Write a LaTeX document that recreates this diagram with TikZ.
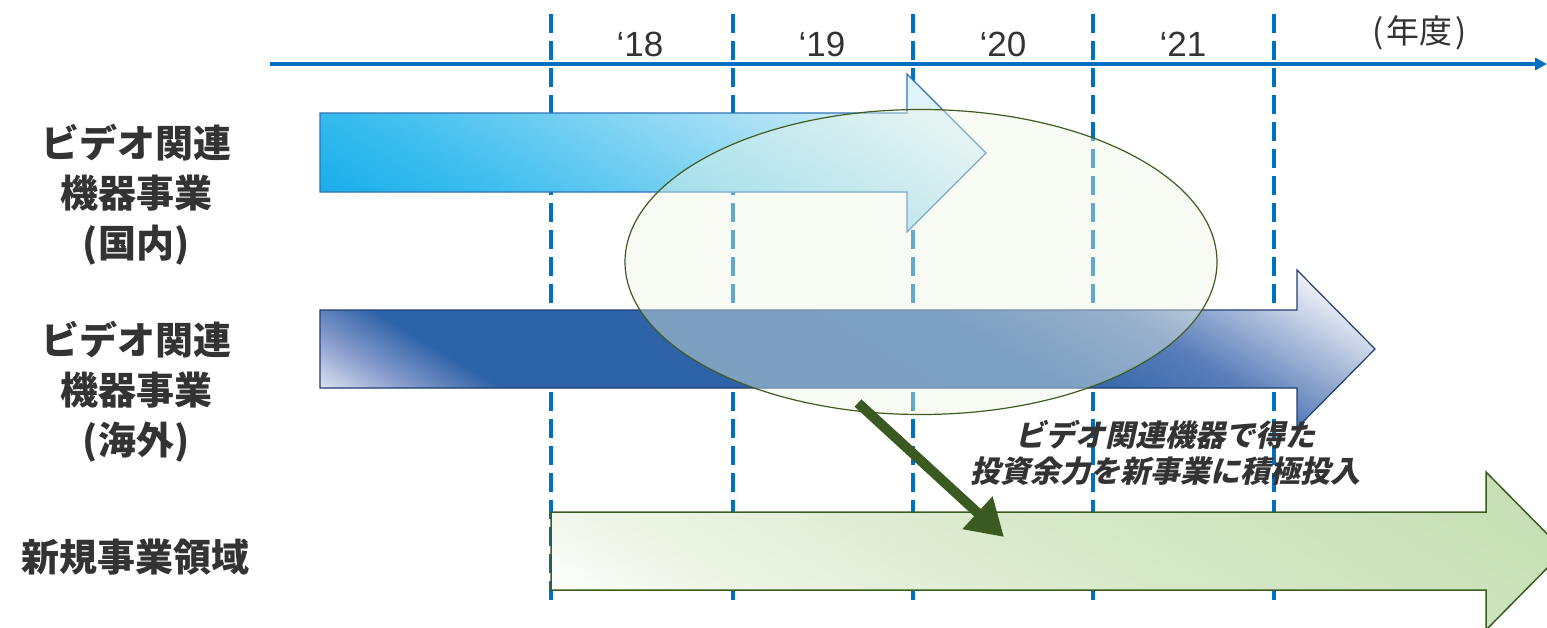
\documentclass[tikz,border=0pt]{standalone}
\usepackage{fontspec}
\setmainfont{Liberation Sans}
\newfontfamily\jp{Noto Sans CJK JP}
\newfontfamily\jpit{Noto Sans CJK JP}[FakeSlant=0.22,BoldFeatures={FakeSlant=0.22}]
\usetikzlibrary{arrows.meta,shapes.geometric}
\definecolor{axisblue}{HTML}{0070C0}
\definecolor{txt}{HTML}{333333}
\definecolor{cA}{HTML}{19AEEA}
\definecolor{cB}{HTML}{3ABDEE}
\definecolor{cC}{HTML}{A8E0F5}
\definecolor{cD}{HTML}{E2F4FB}
\definecolor{bA}{HTML}{DDE3EF}
\definecolor{bB}{HTML}{8B9ECE}
\definecolor{bC}{HTML}{2C62A8}
\definecolor{bD}{HTML}{2D64A9}
\definecolor{bE}{HTML}{5A7EBA}
\definecolor{bF}{HTML}{EDEFF5}
\definecolor{gA}{HTML}{EEF5E7}
\definecolor{gB}{HTML}{D6E8C8}
\definecolor{gC}{HTML}{C2DDAE}
\definecolor{arrowborder1}{HTML}{2E74B5}
\definecolor{arrowborder2}{HTML}{1F3F73}
\definecolor{greenborder}{HTML}{3A5C20}
\definecolor{darkgreen}{HTML}{3A5A22}
\definecolor{ellfill}{HTML}{EEF6E6}
\definecolor{ellline}{HTML}{3F5C22}
\newcommand\arrowOnePath{(320,113) -- (907,113) -- (907,74) -- (986,153) -- (907,232) -- (907,192) -- (320,192) -- cycle}
\newcommand\arrowTwoPath{(320,310) -- (1297,310) -- (1297,270) -- (1375,349) -- (1297,428) -- (1297,388) -- (320,388) -- cycle}
\newcommand\arrowThreePath{(551,512) -- (1486,512) -- (1486,472) -- (1564,551) -- (1486,630) -- (1486,590) -- (551,590) -- cycle}
% strips: #1 y top, #2 y bottom, #3 shift at top, #4 list of stops
\newcommand\stripfill[4]{%
  \foreach \sa/\sb/\ca/\cb in {#4}{%
    \pgfmathtruncatemacro\n{max(1,int((\sb-\sa)/5))}%
    \pgfmathsetmacro\stw{(\sb-\sa)/\n}%
    \foreach \i in {1,...,\n}{%
      \pgfmathsetmacro\sl{\sa+\stw*(\i-1)}%
      \pgfmathsetmacro\sr{\sa+\stw*\i+1.5}%
      \pgfmathsetmacro\p{100*(\i-0.5)/\n}%
      \fill[\cb!\p!\ca] (\sl-#3,#1) -- (\sr-#3,#1) -- (\sr+#3,#2) -- (\sl+#3,#2) -- cycle;
    }%
  }%
}
\tikzset{
  yearlbl/.style={font=\fontsize{35}{40}\selectfont, text=txt, inner sep=0pt},
  sidelbl/.style={font=\jp\bfseries\fontsize{38}{50}\selectfont, text=txt, align=center, inner sep=0pt},
  notelbl/.style={font=\jpit\bfseries\fontsize{30}{36}\selectfont, text=txt, align=center, inner sep=0pt},
  yearline/.style={draw=axisblue, line width=3.5pt, dash pattern=on 19pt off 8pt},
}
\begin{document}
\begin{tikzpicture}[x=1pt,y=-1pt]
\clip (0,0) rectangle (1547,627);
\fill[white] (0,0) rectangle (1547,627);
% axis
\coordinate (axs) at (270,64);
\coordinate (axe) at (1547,64);
\draw[axisblue, line width=4pt, -{Triangle[length=12pt,width=12pt]}] (axs) -- (axe);
% year dashed lines
\foreach \x/\nm in {551/a,733/b,913/c,1093/d,1274/e}{
  \coordinate (t\nm) at (\x,14);
  \coordinate (b\nm) at (\x,604);
  \draw[yearline] (t\nm) -- (b\nm);
}
% years
\node[yearlbl] (y18) at (640,44) {‘18};
\node[yearlbl] (y19) at (822,44) {‘19};
\node[yearlbl] (y20) at (1003,44) {‘20};
\node[yearlbl] (y21) at (1183,44) {‘21};
\node[font=\jp\fontsize{33}{36}\selectfont, text=txt, inner sep=0pt] (fy) at (1420,33) {(\hspace{3pt}年度\hspace{3pt})};
% arrow 1
\begin{scope}
  \clip \arrowOnePath;
  \stripfill{68}{238}{141}{150/255/cA/cA, 255/420/cA/cB, 420/800/cB/cC, 800/1000/cC/cD, 1000/1200/cD/cD}
\end{scope}
\draw[arrowborder1, line width=1.2pt, line join=miter] \arrowOnePath;
% arrow 2
\begin{scope}
  \clip \arrowTwoPath;
  \stripfill{265}{433}{140}{150/255/bA/bA, 255/340/bA/bB, 340/440/bB/bC, 440/1000/bC/bD, 1000/1180/bD/bE, 1180/1420/bE/bF, 1420/1600/bF/bF}
\end{scope}
\draw[arrowborder2, line width=1.2pt, line join=miter] \arrowTwoPath;
% arrow 3
\begin{scope}
  \clip \arrowThreePath;
  \stripfill{465}{637}{143}{350/486/white/white, 486/650/white/gA, 650/1100/gA/gB, 1100/1750/gB/gC}
\end{scope}
\draw[greenborder, line width=1.5pt, line join=miter] \arrowThreePath;
% ellipse
\node[ellipse, draw=ellline, line width=1.2pt, fill=ellfill, fill opacity=0.42,
      minimum width=592pt, minimum height=305pt, inner sep=0pt] (ell) at (921,262) {};
% investment arrow
\coordinate (gs) at (858,403);
\coordinate (ge) at (1004,537);
\draw[darkgreen, line width=10pt, -{Triangle[length=36pt,width=42pt]}] (gs) -- (ge);
% side labels
\node[sidelbl] (dom) at (136,195) {ビデオ関連\\機器事業\\(国内)};
\node[sidelbl] (ovs) at (136,392) {ビデオ関連\\機器事業\\(海外)};
\node[sidelbl] (new) at (135,557) {新規事業領域};
% note
\node[notelbl] (note) at (1165,453) {ビデオ関連機器で得た\\投資余力を新事業に積極投入};
\end{tikzpicture}
\end{document}
